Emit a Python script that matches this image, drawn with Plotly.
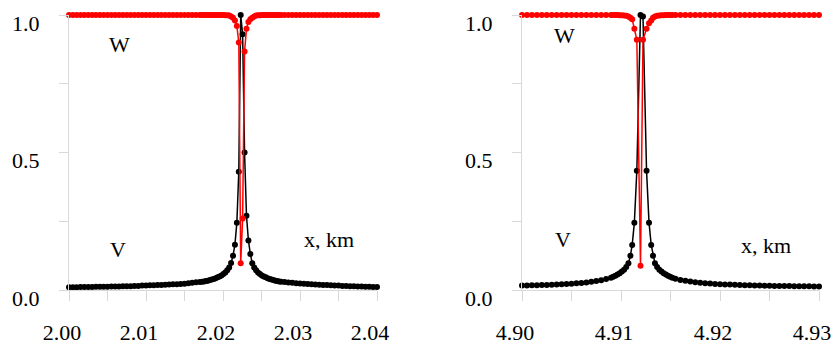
import plotly.graph_objects as go

# ---------------- data: left panel (x, km around 2.02) ----------------
x_left = [
    2.0000, 2.0005, 2.0010, 2.0015, 2.0020, 2.0025, 2.0030, 2.0035, 2.0040, 2.0045,
    2.0050, 2.0055, 2.0060, 2.0065, 2.0070, 2.0075, 2.0080, 2.0085, 2.0090, 2.0095,
    2.0100, 2.0105, 2.0110, 2.0115, 2.0120, 2.0125, 2.0130, 2.0135, 2.0140, 2.0145,
    2.0150, 2.0155, 2.0160, 2.0165, 2.0170,
    2.01730, 2.01755, 2.01780, 2.01805, 2.01830, 2.01855, 2.01880, 2.01905, 2.01930, 2.01955,
    2.01980, 2.02005, 2.02030, 2.02055, 2.02080, 2.02105, 2.02130, 2.02155, 2.02180, 2.02205,
    2.02230,
    2.02255, 2.02280, 2.02305, 2.02330, 2.02355, 2.02380, 2.02405, 2.02430, 2.02455, 2.02480,
    2.02505, 2.02530, 2.02555, 2.02580, 2.02605, 2.02630, 2.02655, 2.02680, 2.02705, 2.02730,
    2.02755,
    2.0280, 2.0285, 2.0290, 2.0295, 2.0300, 2.0305, 2.0310, 2.0315, 2.0320, 2.0325,
    2.0330, 2.0335, 2.0340, 2.0345, 2.0350, 2.0355, 2.0360, 2.0365, 2.0370, 2.0375,
    2.0380, 2.0385, 2.0390, 2.0395, 2.0400,
]
v_left = [
    0.010, 0.010, 0.010, 0.011, 0.011, 0.011, 0.011, 0.012, 0.012, 0.012,
    0.012, 0.013, 0.013, 0.013, 0.014, 0.014, 0.014, 0.015, 0.015, 0.016,
    0.016, 0.017, 0.017, 0.018, 0.018, 0.019, 0.020, 0.021, 0.021, 0.022,
    0.023, 0.025, 0.026, 0.028, 0.029,
    0.030, 0.031, 0.033, 0.034, 0.036, 0.038, 0.040, 0.043, 0.046, 0.049,
    0.053, 0.058, 0.064, 0.072, 0.082, 0.098, 0.125, 0.165, 0.245, 0.430,
    1.000,
    0.930, 0.500, 0.270, 0.180, 0.131, 0.097, 0.082, 0.072, 0.064, 0.058,
    0.053, 0.049, 0.046, 0.043, 0.040, 0.038, 0.036, 0.034, 0.033, 0.031,
    0.030,
    0.029, 0.027, 0.026, 0.025, 0.024, 0.023, 0.022, 0.021, 0.020, 0.019,
    0.018, 0.018, 0.017, 0.016, 0.016, 0.015, 0.015, 0.014, 0.014, 0.013,
    0.013, 0.012, 0.012, 0.011, 0.011,
]
w_left = [
    1.0, 1.0, 1.0, 1.0, 1.0, 1.0, 1.0, 1.0, 1.0, 1.0,
    1.0, 1.0, 1.0, 1.0, 1.0, 1.0, 1.0, 1.0, 1.0, 1.0,
    1.0, 1.0, 1.0, 1.0, 1.0, 1.0, 1.0, 1.0, 1.0, 1.0,
    1.0, 1.0, 1.0, 1.0, 1.0,
    1.0, 1.0, 1.0, 1.0, 1.0, 1.0, 1.0, 1.0, 1.0, 1.0,
    1.0, 1.0, 0.999, 0.999, 0.998, 0.995, 0.990, 0.980, 0.960, 0.900,
    0.097,
    0.260, 0.867, 0.950, 0.975, 0.985, 0.990, 0.995, 0.998, 0.999, 0.999,
    1.0, 1.0, 1.0, 1.0, 1.0, 1.0, 1.0, 1.0, 1.0, 1.0,
    1.0,
    1.0, 1.0, 1.0, 1.0, 1.0, 1.0, 1.0, 1.0, 1.0, 1.0,
    1.0, 1.0, 1.0, 1.0, 1.0, 1.0, 1.0, 1.0, 1.0, 1.0,
    1.0, 1.0, 1.0, 1.0, 1.0,
]

# ---------------- data: right panel (x, km around 4.912) ----------------
x_right = [
    4.9000, 4.9005, 4.9010, 4.9015, 4.9020, 4.9025, 4.9030, 4.9035, 4.9040, 4.9045,
    4.9050, 4.9055, 4.9060, 4.9065, 4.9070, 4.9075, 4.9080, 4.9085,
    4.90899, 4.90921, 4.90943, 4.90965, 4.90987, 4.91009, 4.91031, 4.91053, 4.91075, 4.91095,
    4.91113, 4.91135, 4.91160, 4.91197, 4.91222, 4.91258, 4.91283, 4.91305, 4.91323, 4.91343,
    4.91365, 4.91387, 4.91409, 4.91431, 4.91453, 4.91475, 4.91497, 4.91519,
    4.9155, 4.9160, 4.9165, 4.9170, 4.9175, 4.9180, 4.9185, 4.9190, 4.9195, 4.9200,
    4.9205, 4.9210, 4.9215, 4.9220, 4.9225, 4.9230, 4.9235, 4.9240, 4.9245, 4.9250,
    4.9255, 4.9260, 4.9265, 4.9270, 4.9275, 4.9280, 4.9285, 4.9290, 4.9295, 4.9300,
]
v_right = [
    0.016, 0.0165, 0.017, 0.0175, 0.018, 0.0186, 0.0193, 0.0201, 0.021, 0.022,
    0.0231, 0.0244, 0.0259, 0.0277, 0.0298, 0.0324, 0.0356, 0.0398,
    0.045, 0.048, 0.052, 0.056, 0.061, 0.067, 0.074, 0.084, 0.097, 0.125,
    0.164, 0.245, 0.434, 1.000, 0.995, 0.434, 0.245, 0.164, 0.125, 0.097,
    0.084, 0.074, 0.067, 0.061, 0.056, 0.052, 0.048, 0.045,
    0.041, 0.036, 0.0335, 0.031, 0.028, 0.0265, 0.025, 0.0235, 0.022, 0.021,
    0.020, 0.0196, 0.019, 0.018, 0.0176, 0.017, 0.0166, 0.0162, 0.0158, 0.0154,
    0.015, 0.0147, 0.0144, 0.0141, 0.0139, 0.0136, 0.0134, 0.0132, 0.013, 0.0128,
]
w_right = [
    1.0, 1.0, 1.0, 1.0, 1.0, 1.0, 1.0, 1.0, 1.0, 1.0,
    1.0, 1.0, 1.0, 1.0, 1.0, 1.0, 1.0, 1.0,
    1.0, 1.0, 1.0, 1.0, 0.999, 0.999, 0.998, 0.997, 0.995, 0.990,
    0.985, 0.950, 0.910, 0.088, 0.910, 0.950, 0.970, 0.980, 0.990, 0.995,
    0.997, 0.998, 0.999, 0.999, 1.0, 1.0, 1.0, 1.0,
    1.0, 1.0, 1.0, 1.0, 1.0, 1.0, 1.0, 1.0, 1.0, 1.0,
    1.0, 1.0, 1.0, 1.0, 1.0, 1.0, 1.0, 1.0, 1.0, 1.0,
    1.0, 1.0, 1.0, 1.0, 1.0, 1.0, 1.0, 1.0, 1.0, 1.0,
]

y_tick_vals = [0.0, 0.5, 1.0]
y_tick_text = ["0.0", "0.5", "1.0"]
x_left_ticks = [2.00, 2.01, 2.02, 2.03, 2.04]
x_left_text = ["2.00", "2.01", "2.02", "2.03", "2.04"]
x_right_ticks = [4.90, 4.91, 4.92, 4.93]
x_right_text = ["4.90", "4.91", "4.92", "4.93"]

FONT = "Liberation Serif"
GRAY = "#d9d9d9"
BLACK = "#000000"
RED = "#ff0000"

fig = go.Figure()

def add_pair(x, v, w, xa, ya):
    fig.add_trace(go.Scatter(
        x=x, y=v, mode="lines+markers", xaxis=xa, yaxis=ya,
        line=dict(color=BLACK, width=1.5),
        marker=dict(color=BLACK, size=6),
        cliponaxis=False, showlegend=False, hoverinfo="skip"))
    fig.add_trace(go.Scatter(
        x=x, y=w, mode="lines+markers", xaxis=xa, yaxis=ya,
        line=dict(color=RED, width=1.5),
        marker=dict(color=RED, size=6),
        cliponaxis=False, showlegend=False, hoverinfo="skip"))

add_pair(x_left, v_left, w_left, "x", "y")
add_pair(x_right, v_right, w_right, "x2", "y2")

W, H = 835, 346
y_dom = [(H - 290) / H, (H - 15) / H]

def xaxis(dom, rng, tv, tt, anchor):
    return dict(
        domain=dom, range=rng, anchor=anchor, automargin=False,
        tickmode="array", tickvals=tv, ticktext=tt,
        ticks="outside", ticklen=10, tickcolor=GRAY, tickwidth=1,
        minor=dict(dtick=0.005, ticks="outside", ticklen=10, tickcolor=GRAY, tickwidth=1),
        showline=True, linecolor=GRAY, linewidth=1,
        showgrid=False, zeroline=False,
        tickfont=dict(family=FONT, size=22, color=BLACK),
        ticklabelstandoff=13, ticklabelshift=-7,
    )

def yaxis(anchor):
    return dict(
        domain=y_dom, range=[0, 1], anchor=anchor, automargin=False,
        tickmode="array", tickvals=y_tick_vals, ticktext=y_tick_text,
        ticks="outside", ticklen=9, tickcolor=GRAY, tickwidth=1,
        minor=dict(dtick=0.25, ticks="outside", ticklen=9, tickcolor=GRAY, tickwidth=1),
        showline=True, linecolor=GRAY, linewidth=1,
        showgrid=False, zeroline=False,
        tickfont=dict(family=FONT, size=22, color=BLACK),
        ticklabelstandoff=15, ticklabelshift=8,
    )

fig.update_layout(
    width=W, height=H,
    margin=dict(l=0, r=0, t=0, b=0, autoexpand=False),
    paper_bgcolor="white", plot_bgcolor="white",
    xaxis=xaxis([69 / W, 377 / W], [2.00, 2.04], x_left_ticks, x_left_text, "y"),
    yaxis=yaxis("x"),
    xaxis2=xaxis([522 / W, 819 / W], [4.90, 4.93], x_right_ticks, x_right_text, "y2"),
    yaxis2=yaxis("x2"),
)

ann_font = dict(family=FONT, size=22, color=BLACK)
labels = [
    ("x", "y", 2.00662, 0.891, "W"),
    ("x", "y", 2.00636, 0.147, "V"),
    ("x", "y", 2.0338, 0.185, "x, km"),
    ("x2", "y2", 4.90434, 0.927, "W"),
    ("x2", "y2", 4.90414, 0.182, "V"),
    ("x2", "y2", 4.92465, 0.162, "x, km"),
]
for xr, yr, xv, yv, txt in labels:
    fig.add_annotation(x=xv, y=yv, xref=xr, yref=yr, text=txt, showarrow=False,
                       font=ann_font, xanchor="center", yanchor="middle")

fig.write_html(
    "out.html",
    config={"displayModeBar": False},
    post_script="document.body.style.margin='0';document.body.style.overflow='hidden';",
)
